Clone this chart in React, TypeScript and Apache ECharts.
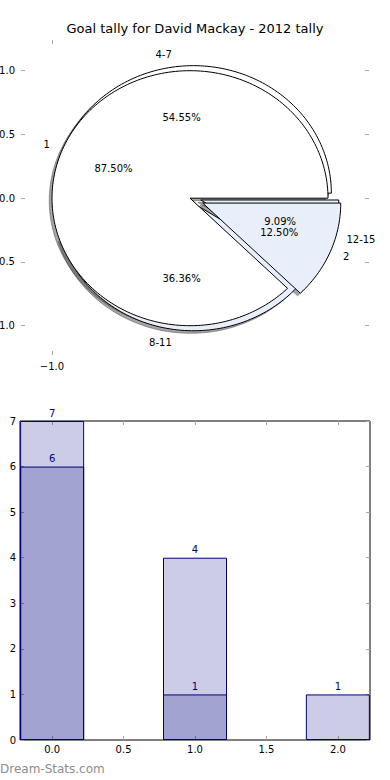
import React, { useEffect, useRef } from "react";
import * as echarts from "echarts";

// ---------- data ----------
const titleText = "Goal tally for David Mackay - 2012 tally";
const pie1Labels = ["1", "2"];
const pie1Values = [7, 1];
const pie1Explode = [0, 0.1];
const pie2Labels = ["4-7", "8-11", "12-15"];
const pie2Values = [6, 4, 1];
const pie2Explode = [0.04, 0.04, 0.05];
const pieYTicks = [-1, -0.5, 0, 0.5, 1];
const pieXTicks = [-1];
const barX = [0, 1, 2];
const barAll = [7, 4, 1];
const barSub = [6, 1];
const barXTicks = [0, 0.5, 1, 1.5, 2];
const barYTicks = [0, 1, 2, 3, 4, 5, 6, 7];
const watermark = "Dream-Stats.com";

// ---------- style / layout ----------
const FONT = "DejaVu Sans";
const WHITE = "#ffffff";
const BLUE = "#e9eefb";
const NAVY = "#000080";
const TICK = "#a8a8a8";
const SHADOW = "rgba(77,77,77,0.5)";
const R = 1;
const pie1Center = [0, 0];
const pie2Center = [0.03, 0];
const shadowOff = [-0.02, -0.02];
const pie1Colors = [WHITE, BLUE];
const pie2Colors = [WHITE, BLUE, BLUE];

const fmt1 = (v: number) => (v < 0 ? "\u2212" : "") + Math.abs(v).toFixed(1);

function buildWedges(labels: string[], values: number[], explode: number[], center: number[], colors: string[]) {
  const total = values.reduce((a, b) => a + b, 0);
  let a = 0;
  return values.map((v, i) => {
    const a0 = a;
    const a1 = a + (360 * v) / total;
    a = a1;
    const mid = ((a0 + a1) / 2) * Math.PI / 180;
    const cx = center[0] + explode[i] * Math.cos(mid);
    const cy = center[1] + explode[i] * Math.sin(mid);
    const lx = cx + 1.1 * R * Math.cos(mid);
    const ly = cy + 1.1 * R * Math.sin(mid);
    const px = cx + 0.6 * R * Math.cos(mid);
    const py = cy + 0.6 * R * Math.sin(mid);
    return {
      a0, a1, cx, cy, fill: colors[i % colors.length],
      label: labels[i], lx, ly, lalign: lx > 0 ? "left" : "right",
      pct: ((100 * v) / total).toFixed(2) + "%", px, py,
    };
  });
}

function wedgePts(api: any, cx: number, cy: number, a0: number, a1: number) {
  const pts: number[][] = [api.coord([cx, cy])];
  const n = Math.max(4, Math.ceil((a1 - a0) / 1.5));
  for (let i = 0; i <= n; i++) {
    const t = ((a0 + ((a1 - a0) * i) / n) * Math.PI) / 180;
    pts.push(api.coord([cx + R * Math.cos(t), cy + R * Math.sin(t)]));
  }
  return pts;
}

export default function App() {
  const ref = useRef<HTMLDivElement>(null);
  useEffect(() => {
    if (!ref.current) return;
    const chart = echarts.init(ref.current, null, { renderer: "svg" });
    const w1 = buildWedges(pie1Labels, pie1Values, pie1Explode, pie1Center, pie1Colors);
    const w2 = buildWedges(pie2Labels, pie2Values, pie2Explode, pie2Center, pie2Colors);
    const all = [...w2, ...w1];

    const wedgeSeries = (ws: any[], z: number) => ({
      type: "custom",
      xAxisIndex: 0,
      yAxisIndex: 0,
      z,
      silent: true,
      clip: false,
      data: ws.map((w) => [w.cx, w.cy]),
      renderItem: (params: any, api: any) => {
        const w = ws[params.dataIndex];
        return {
          type: "polygon",
          shape: { points: wedgePts(api, w.cx, w.cy, w.a0, w.a1) },
          style: { fill: w.fill, stroke: "#000", lineWidth: 1 },
        };
      },
    });

    const labelItems: any[] = [];
    all.forEach((w) => {
      labelItems.push({ x: w.lx, y: w.ly, text: w.label, align: w.lalign });
      labelItems.push({ x: w.px, y: w.py, text: w.pct, align: "center" });
    });

    const tickStyle = { show: true, inside: true, length: 4, lineStyle: { color: TICK, width: 1 } };
    const labelFont = { fontFamily: FONT, fontSize: 10, color: "#000" };
    const noLine = { show: false, onZero: false };

    const pieXMin = -(190 - 21) / 138;
    const pieXMax = (369 - 190) / 138;
    const pieYMax = (198.2 - 40) / 127.5;
    const pieYMin = -(355 - 198.2) / 127.5;

    chart.setOption({
      animation: false,
      backgroundColor: "#fff",
      title: {
        text: titleText,
        left: "center",
        top: 22,
        padding: 0,
        textStyle: { fontFamily: FONT, fontSize: 13, fontWeight: "normal", color: "#000" },
      },
      grid: [
        { left: 21, right: 21, top: 40, bottom: 780 - 355, show: false, containLabel: false, outerBoundsMode: "none" },
        { left: 20, right: 20, top: 421, bottom: 40, show: true, borderColor: "#000", borderWidth: 1, backgroundColor: "transparent", containLabel: false, outerBoundsMode: "none" },
      ],
      xAxis: [
        {
          type: "value", gridIndex: 0, position: "bottom", min: pieXMin, max: pieXMax,
          axisLine: noLine, splitLine: { show: false },
          axisTick: { ...tickStyle, customValues: pieXTicks },
          axisLabel: { ...labelFont, margin: 6, customValues: pieXTicks, formatter: (v: number) => fmt1(v) },
        },
        {
          type: "value", gridIndex: 0, position: "top", min: pieXMin, max: pieXMax,
          axisLine: noLine, splitLine: { show: false },
          axisTick: { ...tickStyle, customValues: pieXTicks },
          axisLabel: { show: false },
        },
        {
          type: "value", gridIndex: 1, position: "bottom", min: -0.225, max: 2.225,
          axisLine: noLine, splitLine: { show: false },
          axisTick: { ...tickStyle, customValues: barXTicks },
          axisLabel: { ...labelFont, margin: 4, customValues: barXTicks, formatter: (v: number) => v.toFixed(1) },
        },
        {
          type: "value", gridIndex: 1, position: "top", min: -0.225, max: 2.225,
          axisLine: noLine, splitLine: { show: false },
          axisTick: { ...tickStyle, customValues: barXTicks },
          axisLabel: { show: false },
        },
      ],
      yAxis: [
        {
          type: "value", gridIndex: 0, position: "left", min: pieYMin, max: pieYMax,
          axisLine: noLine, splitLine: { show: false },
          axisTick: { ...tickStyle, customValues: pieYTicks },
          axisLabel: { ...labelFont, margin: 6, customValues: pieYTicks, formatter: (v: number) => fmt1(v) },
        },
        {
          type: "value", gridIndex: 0, position: "right", min: pieYMin, max: pieYMax,
          axisLine: noLine, splitLine: { show: false },
          axisTick: { ...tickStyle, customValues: pieYTicks },
          axisLabel: { show: false },
        },
        {
          type: "value", gridIndex: 1, position: "left", min: 0, max: 7, interval: 1,
          axisLine: noLine, splitLine: { show: false },
          axisTick: { ...tickStyle, customValues: barYTicks },
          axisLabel: { ...labelFont, margin: 4, customValues: barYTicks },
        },
        {
          type: "value", gridIndex: 1, position: "right", min: 0, max: 7, interval: 1,
          axisLine: noLine, splitLine: { show: false },
          axisTick: { ...tickStyle, customValues: barYTicks },
          axisLabel: { show: false },
        },
      ],
      series: [
        {
          type: "custom",
          xAxisIndex: 0,
          yAxisIndex: 0,
          z: 1,
          silent: true,
          clip: false,
          data: all.map((w) => [w.cx + shadowOff[0], w.cy + shadowOff[1]]),
          renderItem: (params: any, api: any) => {
            const w = all[params.dataIndex];
            return {
              type: "polygon",
              shape: { points: wedgePts(api, w.cx + shadowOff[0], w.cy + shadowOff[1], w.a0, w.a1) },
              style: { fill: SHADOW, stroke: SHADOW, lineWidth: 1 },
            };
          },
        },
        wedgeSeries(w2, 2),
        wedgeSeries(w1, 3),
        {
          type: "custom",
          xAxisIndex: 0,
          yAxisIndex: 0,
          z: 5,
          silent: true,
          clip: false,
          data: labelItems.map((l) => [l.x, l.y]),
          renderItem: (params: any, api: any) => {
            const l = labelItems[params.dataIndex];
            const p = api.coord([l.x, l.y]);
            return {
              type: "text",
              x: p[0],
              y: p[1],
              style: {
                text: l.text,
                fill: "#000000",
                fontFamily: FONT,
                fontSize: 10,
                align: l.align,
                verticalAlign: "middle",
              },
            };
          },
        },
        {
          type: "bar",
          xAxisIndex: 2,
          yAxisIndex: 2,
          barWidth: 64,
          barGap: "-100%",
          data: barX.map((x, i) => [x, barAll[i]]),
          itemStyle: { color: "rgba(0,0,128,0.2)", borderColor: NAVY, borderWidth: 1 },
          label: { show: true, position: "top", distance: 3, color: NAVY, fontFamily: FONT, fontSize: 10, formatter: (p: any) => String(p.value[1]) },
        },
        {
          type: "bar",
          xAxisIndex: 2,
          yAxisIndex: 2,
          barWidth: 64,
          barGap: "-100%",
          data: barSub.map((v, i) => [barX[i], v]),
          itemStyle: { color: "rgba(0,0,128,0.2)", borderColor: NAVY, borderWidth: 1 },
          label: { show: true, position: "top", distance: 3, color: NAVY, fontFamily: FONT, fontSize: 10, formatter: (p: any) => String(p.value[1]) },
        },
      ],
      graphic: [
        {
          type: "text",
          left: 0,
          top: 763,
          style: { text: watermark, fill: "#8c8c8c", fontFamily: FONT, fontSize: 12 },
        },
      ],
    });
    return () => chart.dispose();
  }, []);
  return (
    <div
      ref={ref}
      style={{ position: "absolute", left: 0, top: 0, width: 390, height: 780, background: "#fff" }}
    />
  );
}
